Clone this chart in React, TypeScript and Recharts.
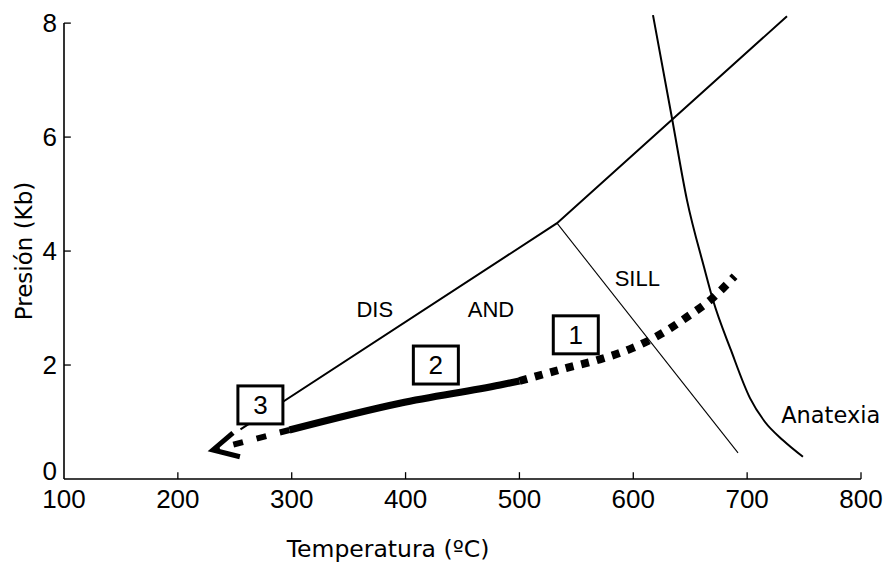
import React from 'react';
import { ComposedChart, Line, Scatter, XAxis, YAxis, ReferenceLine, Label } from 'recharts';

// Axis ticks
const xTicks = [100, 200, 300, 400, 500, 600, 700, 800];
const yTicks = [0, 2, 4, 6, 8];

// Phase boundaries (T in ºC, P in Kb)
const disAnd = [
  { t: 255, p: 0.87 },
  { t: 533, p: 4.49 },
  { t: 735, p: 8.12 },
];
const andSill = [
  { t: 533, p: 4.49 },
  { t: 692, p: 0.46 },
];
const anatexia = [
  { t: 617.3, p: 8.14 },
  { t: 634.0, p: 6.33 },
  { t: 647.2, p: 4.89 },
  { t: 662.1, p: 3.72 },
  { t: 670.0, p: 3.14 },
  { t: 685.8, p: 2.26 },
  { t: 702.5, p: 1.42 },
  { t: 715.7, p: 1.0 },
  { t: 731.5, p: 0.68 },
  { t: 749.0, p: 0.39 },
];

// P-T path segments
const path1 = [
  { t: 500, p: 1.72 },
  { t: 541.6, p: 1.95 },
  { t: 570.6, p: 2.1 },
  { t: 599.6, p: 2.3 },
  { t: 623, p: 2.53 },
  { t: 647, p: 2.84 },
  { t: 670, p: 3.18 },
  { t: 689, p: 3.56 },
];
const path2 = [
  { t: 298, p: 0.86 },
  { t: 395, p: 1.33 },
  { t: 483, p: 1.65 },
  { t: 500, p: 1.72 },
];
const path3 = [
  { t: 298, p: 0.86 },
  { t: 233, p: 0.52 },
];
const arrowHead = [
  { t: 248.4, p: 0.81 },
  { t: 230.8, p: 0.51 },
  { t: 254.5, p: 0.39 },
];

// Numbered boxes
const boxes = [
  { t: 549.5, p: 2.53, n: '1' },
  { t: 426.6, p: 2.0, n: '2' },
  { t: 272.5, p: 1.3, n: '3' },
];

// Field labels
const fieldLabels = [
  { t: 373, p: 2.98, s: 'DIS', f: 'Liberation Sans', size: 22 },
  { t: 475, p: 2.98, s: 'AND', f: 'Liberation Sans', size: 22 },
  { t: 603.5, p: 3.53, s: 'SILL', f: 'Liberation Sans', size: 22 },
  { t: 773.4, p: 1.13, s: 'Anatexia', f: 'DejaVu Sans', size: 22.5 },
];

// inward tick lengths (in data units)
const X_TICK_LEN = 0.12;
const Y_TICK_LEN = 6;

const BOX_W = 45;
const BOX_H = 38;

const BoxShape = (props: any) => {
  const { cx, cy, payload } = props;
  if (cx == null || cy == null) return null;
  return (
    <g>
      <rect
        x={cx - BOX_W / 2}
        y={cy - BOX_H / 2}
        width={BOX_W}
        height={BOX_H}
        fill="#fff"
        stroke="#000"
        strokeWidth={3}
      />
      <text
        x={cx}
        y={cy}
        dy="0.36em"
        textAnchor="middle"
        fontFamily="Liberation Sans"
        fontSize={26}
        fill="#000"
      >
        {payload.n}
      </text>
    </g>
  );
};

const TextShape = (props: any) => {
  const { cx, cy, payload } = props;
  if (cx == null || cy == null) return null;
  return (
    <text
      x={cx}
      y={cy}
      dy="0.36em"
      textAnchor="middle"
      fontFamily={payload.f}
      fontSize={payload.size}
      fill="#000"
    >
      {payload.s}
    </text>
  );
};

const YTick = (props: any) => {
  const { x, y, payload } = props;
  const shift = payload.value === 0 ? -8 : 0;
  return (
    <text
      x={x}
      y={y + shift}
      dy="0.355em"
      textAnchor="end"
      fontFamily="Liberation Sans"
      fontSize={26}
      fill="#000"
    >
      {payload.value}
    </text>
  );
};

const XTitle = () => (
  <text x={388} y={557} textAnchor="middle" fontFamily="DejaVu Sans" fontSize={23.5} fill="#000">
    Temperatura (ºC)
  </text>
);

const YTitle = () => (
  <text
    x={32}
    y={251}
    transform="rotate(-90 32 251)"
    textAnchor="middle"
    fontFamily="DejaVu Sans"
    fontSize={23}
    fill="#000"
  >
    Presión (Kb)
  </text>
);

const tickStyle = { fill: '#000', fontSize: 26, fontFamily: 'Liberation Sans' };

export default function App() {
  return (
    <div style={{ position: 'absolute', left: 0, top: 0, width: 884, height: 562, background: '#fff' }}>
      <ComposedChart
        width={884}
        height={562}
        margin={{ top: 14, right: 23, bottom: 0, left: 0 }}
      >
        <XAxis
          dataKey="t"
          type="number"
          domain={[100, 800]}
          ticks={xTicks}
          height={83}
          axisLine={{ stroke: '#000', strokeWidth: 1.6 }}
          tickLine={false}
          tickSize={-6}
          tickMargin={17}
          tick={tickStyle}
          interval={0}
        >
          <Label content={<XTitle />} />
        </XAxis>
        <YAxis
          type="number"
          domain={[0, 8.16]}
          ticks={yTicks}
          width={64}
          axisLine={false}
          tickLine={false}
          tickSize={-6}
          tickMargin={13}
          tick={<YTick />}
          interval={0}
        >
          <Label content={<YTitle />} />
        </YAxis>
        <ReferenceLine
          segment={[{ x: 100, y: 0 }, { x: 100, y: 8 }]}
          stroke="#000"
          strokeWidth={1.6}
        />
        {xTicks.slice(1).map((t) => (
          <ReferenceLine
            key={'xt' + t}
            segment={[{ x: t, y: 0 }, { x: t, y: X_TICK_LEN }]}
            stroke="#000"
            strokeWidth={1.3}
          />
        ))}
        {yTicks.slice(1).map((p) => (
          <ReferenceLine
            key={'yt' + p}
            segment={[{ x: 100, y: p }, { x: 100 + Y_TICK_LEN, y: p }]}
            stroke="#000"
            strokeWidth={1.3}
          />
        ))}

        <Line data={disAnd} dataKey="p" type="linear" stroke="#000" strokeWidth={2} dot={false} activeDot={false} isAnimationActive={false} />
        <Line data={andSill} dataKey="p" type="linear" stroke="#000" strokeWidth={1.1} dot={false} activeDot={false} isAnimationActive={false} />
        <Line data={anatexia} dataKey="p" type="monotone" stroke="#000" strokeWidth={2} dot={false} activeDot={false} isAnimationActive={false} />

        <Line data={path2} dataKey="p" type="monotone" stroke="#000" strokeWidth={7} dot={false} activeDot={false} isAnimationActive={false} />
        <Line data={path1} dataKey="p" type="monotone" stroke="#000" strokeWidth={8} strokeDasharray="8 8" dot={false} activeDot={false} isAnimationActive={false} />
        <Line data={path3} dataKey="p" type="linear" stroke="#000" strokeWidth={6} strokeDasharray="10 14" dot={false} activeDot={false} isAnimationActive={false} />
        <Line data={arrowHead} dataKey="p" type="linear" stroke="#000" strokeWidth={5} dot={false} activeDot={false} isAnimationActive={false} />

        <Scatter data={boxes} dataKey="p" shape={<BoxShape />} isAnimationActive={false} />
        <Scatter data={fieldLabels} dataKey="p" shape={<TextShape />} isAnimationActive={false} />
      </ComposedChart>
    </div>
  );
}
